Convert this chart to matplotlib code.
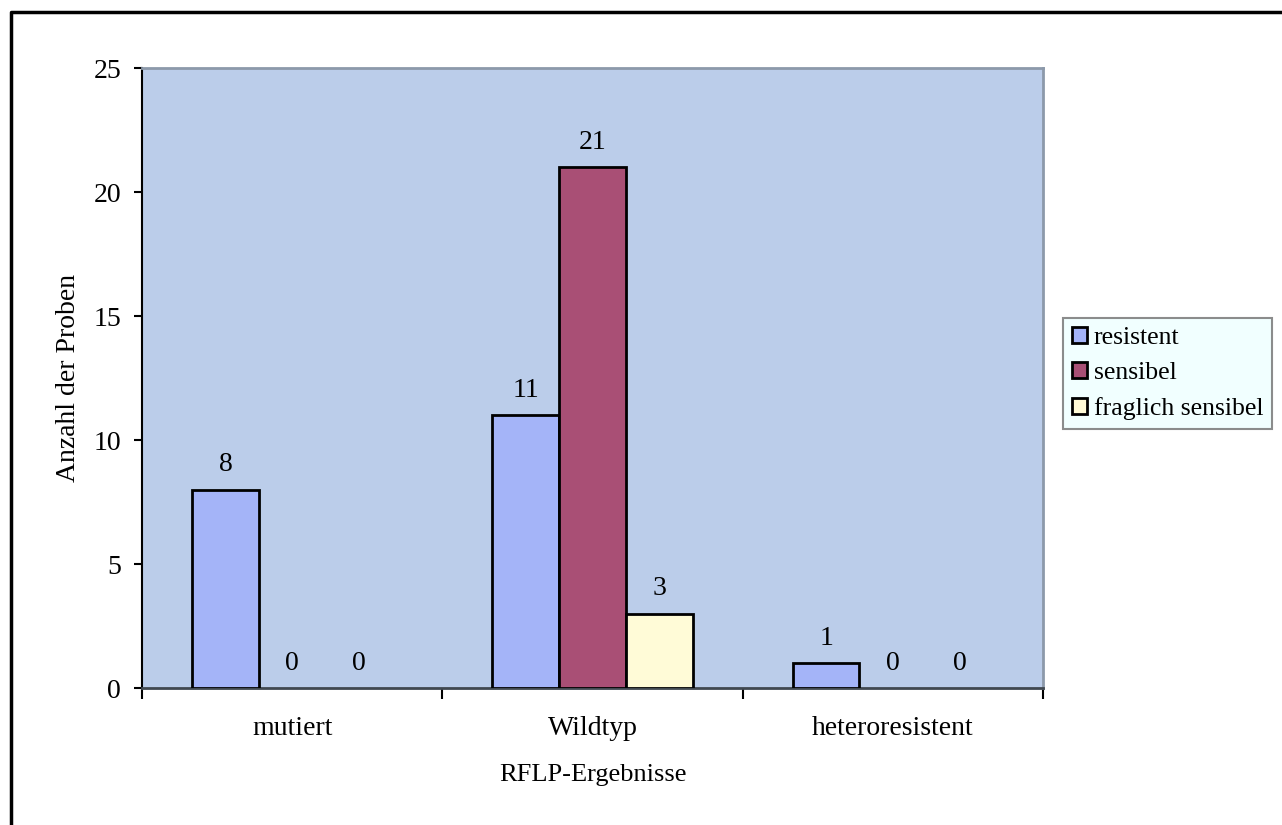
import numpy as np
import matplotlib.pyplot as plt
from matplotlib.lines import Line2D
from matplotlib.patches import Patch

# datos
categorias = ['mutiert', 'Wildtyp', 'heteroresistent']
resistent = [8, 11, 1]
sensibel = [0, 21, 0]
fraglich = [0, 3, 0]
series = ['resistent', 'sensibel', 'fraglich sensibel']
colores = ['#A4B4F8', '#A94F75', '#FFFBD7']

plt.rcParams['font.family'] = ['Liberation Serif', 'DejaVu Serif']
fs = 20

fig = plt.figure(figsize=(12.82, 8.25), dpi=100)
ax = fig.add_axes([142/1282, 1-688/825, 901/1282, 620/825])
ax.set_facecolor('#BBCDEA')

x = np.arange(len(categorias))
ancho = 2/9
for i, (nombre, valores) in enumerate(zip(series, [resistent, sensibel, fraglich])):
    # barras de valor cero sin borde
    bordes = [2 if v > 0 else 0 for v in valores]
    barras = ax.bar(x + (i - 1)*ancho, valores, ancho, color=colores[i],
                    edgecolor='black', linewidth=bordes, zorder=3)
    ax.bar_label(barras, padding=9, fontsize=fs)

ax.set_xlim(-0.5, 2.5)
ax.set_ylim(0, 25)
ax.set_yticks([0, 5, 10, 15, 20, 25])
ax.set_xticks(x)
ax.set_xticklabels(categorias)
ax.set_xticks([-0.5, 0.5, 1.5, 2.5], minor=True)
ax.tick_params(axis='x', which='major', length=0, pad=20, labelsize=fs)
ax.tick_params(axis='x', which='minor', length=8, width=1.5, direction='out')
ax.tick_params(axis='y', length=6, width=1.5, labelsize=fs, pad=9)

ax.spines['left'].set_color('black')
ax.spines['left'].set_linewidth(1.5)
ax.spines['bottom'].set_color('#404850')
ax.spines['bottom'].set_linewidth(2)
for lado in ['top', 'right']:
    ax.spines[lado].set_color('#8C99AA')
    ax.spines[lado].set_linewidth(2)

ax.set_ylabel('Anzahl der Proben', fontsize=fs, labelpad=9)
ax.set_xlabel('RFLP-Ergebnisse', fontsize=19, labelpad=17)

manejadores = [Patch(facecolor=c, edgecolor='black', linewidth=2, label=s)
               for c, s in zip(colores, series)]
leg = fig.legend(handles=manejadores, loc='upper left',
                 bbox_to_anchor=(1063/1282, 1-318/825),
                 fontsize=18.5, frameon=True, fancybox=False, borderaxespad=0,
                 handlelength=0.6, handleheight=0.6, handletextpad=0.25,
                 labelspacing=0.5, borderpad=0.35)
leg.get_frame().set_facecolor('#EEFFFF')
leg.get_frame().set_edgecolor('#707070')
leg.get_frame().set_linewidth(1.5)

# marco exterior
fig.add_artist(Line2D([11/1282, 11/1282, 1.0], [0.0, 1-12/825, 1-12/825],
                      transform=fig.transFigure, color='black', linewidth=2.5))

fig.savefig('out.png', dpi=100)
